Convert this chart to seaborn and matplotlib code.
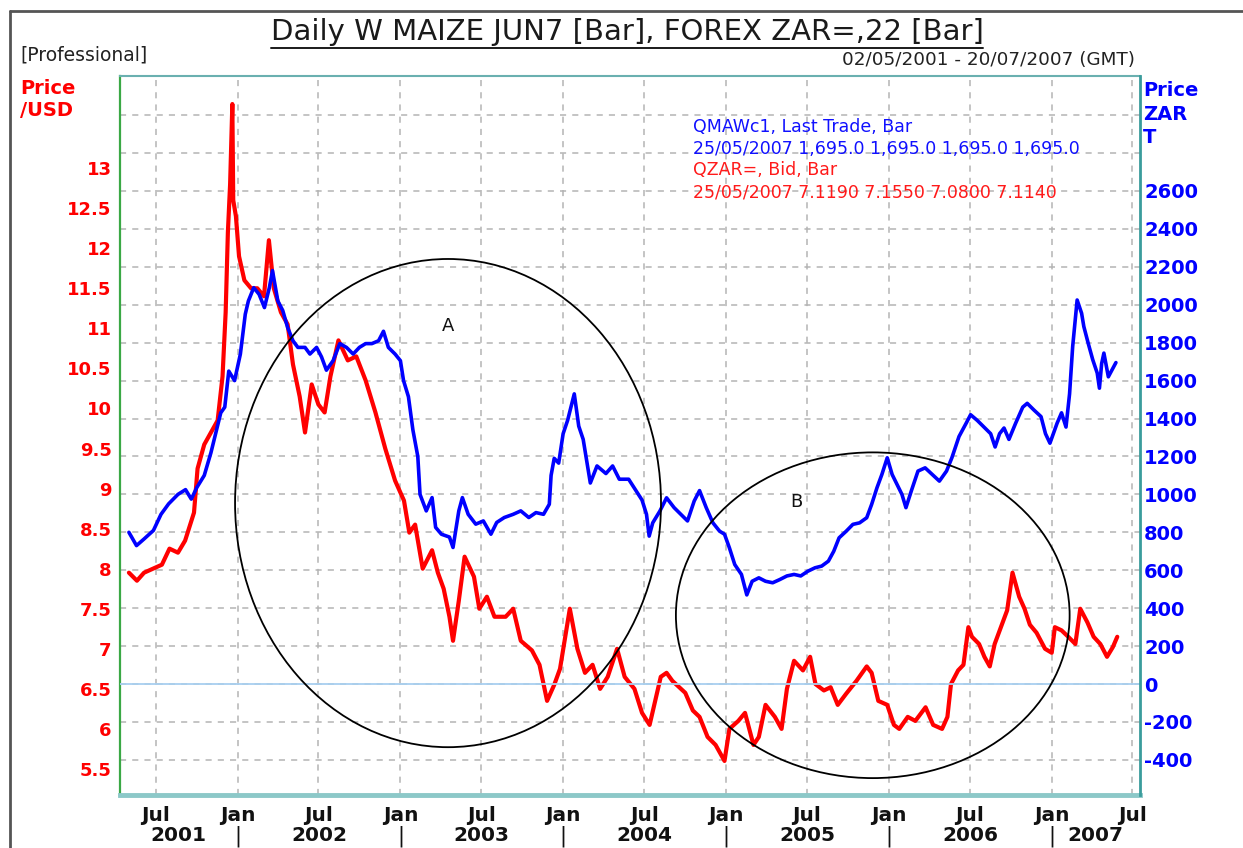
import numpy as np
import pandas as pd
import matplotlib
matplotlib.use("Agg")
import matplotlib.pyplot as plt
import matplotlib.dates as mdates
import matplotlib.transforms as mtransforms
from matplotlib.patches import Ellipse
from matplotlib.lines import Line2D
import seaborn as sns

# QZAR= bid, rand per US dollar (left axis)
zar_dates = [
    "2001-05-02", "2001-05-20", "2001-06-05", "2001-06-25", "2001-07-15", "2001-08-01",
    "2001-08-20", "2001-09-05", "2001-09-25", "2001-10-03", "2001-10-18", "2001-11-02",
    "2001-11-17", "2001-11-28", "2001-12-05", "2001-12-10", "2001-12-15", "2001-12-20",
    "2001-12-22", "2001-12-28", "2002-01-04", "2002-01-16", "2002-01-31", "2002-02-14",
    "2002-03-01", "2002-03-12", "2002-03-23", "2002-04-08", "2002-04-23", "2002-05-05",
    "2002-05-20", "2002-06-01", "2002-06-16", "2002-07-01", "2002-07-15", "2002-07-28",
    "2002-08-15", "2002-09-05", "2002-09-24", "2002-10-15", "2002-11-06", "2002-11-28",
    "2002-12-20", "2003-01-09", "2003-01-21", "2003-02-03", "2003-02-20", "2003-03-13",
    "2003-03-26", "2003-04-08", "2003-04-21", "2003-04-29", "2003-05-12", "2003-05-25",
    "2003-06-15", "2003-06-27", "2003-07-14", "2003-07-31", "2003-08-25", "2003-09-11",
    "2003-09-28", "2003-10-23", "2003-11-09", "2003-11-26", "2003-12-12", "2003-12-25",
    "2004-01-16", "2004-02-02", "2004-02-19", "2004-03-07", "2004-03-24", "2004-04-10",
    "2004-05-01", "2004-05-18", "2004-06-09", "2004-06-26", "2004-07-13", "2004-08-07",
    "2004-08-20", "2004-09-02", "2004-10-01", "2004-10-18", "2004-11-02", "2004-11-20",
    "2004-12-08", "2004-12-28", "2005-01-08", "2005-01-28", "2005-02-12", "2005-03-03",
    "2005-03-15", "2005-03-30", "2005-04-20", "2005-05-05", "2005-05-17", "2005-06-02",
    "2005-06-22", "2005-07-08", "2005-07-20", "2005-08-08", "2005-08-23", "2005-09-08",
    "2005-09-27", "2005-10-20", "2005-11-12", "2005-11-23", "2005-12-08", "2005-12-28",
    "2006-01-12", "2006-01-24", "2006-02-12", "2006-03-01", "2006-03-24", "2006-04-10",
    "2006-04-30", "2006-05-12", "2006-05-20", "2006-06-05", "2006-06-17", "2006-06-28",
    "2006-07-06", "2006-07-22", "2006-08-03", "2006-08-15", "2006-08-26", "2006-09-11",
    "2006-09-23", "2006-10-05", "2006-10-20", "2006-11-01", "2006-11-13", "2006-11-28",
    "2006-12-17", "2007-01-01", "2007-01-08", "2007-01-23", "2007-02-07", "2007-02-23",
    "2007-03-06", "2007-03-22", "2007-04-05", "2007-04-20", "2007-05-05", "2007-05-18",
    "2007-05-28",
]
zar_values = [
    7.95, 7.85, 7.95, 8.00, 8.05, 8.25,
    8.20, 8.35, 8.70, 9.25, 9.55, 9.70,
    9.85, 10.40, 11.20, 12.20, 12.80, 13.80,
    12.60, 12.40, 11.90, 11.60, 11.50, 11.50,
    11.40, 12.10, 11.50, 11.20, 11.05, 10.55,
    10.15, 9.70, 10.30, 10.05, 9.95, 10.40,
    10.85, 10.60, 10.65, 10.35, 9.95, 9.50,
    9.10, 8.85, 8.45, 8.55, 8.00, 8.23,
    7.95, 7.75, 7.40, 7.10, 7.60, 8.15,
    7.90, 7.50, 7.65, 7.40, 7.40, 7.50,
    7.10, 6.98, 6.80, 6.35, 6.55, 6.75,
    7.50, 7.00, 6.70, 6.80, 6.50, 6.65,
    7.00, 6.65, 6.50, 6.20, 6.05, 6.65,
    6.70, 6.60, 6.45, 6.23, 6.15, 5.90,
    5.80, 5.60, 6.00, 6.10, 6.20, 5.80,
    5.90, 6.30, 6.15, 6.00, 6.50, 6.85,
    6.73, 6.90, 6.56, 6.48, 6.52, 6.30,
    6.44, 6.60, 6.78, 6.70, 6.35, 6.30,
    6.05, 6.00, 6.15, 6.10, 6.27, 6.05,
    6.00, 6.15, 6.56, 6.73, 6.80, 7.27,
    7.15, 7.06, 6.90, 6.78, 7.06, 7.30,
    7.48, 7.95, 7.65, 7.50, 7.30, 7.20,
    7.00, 6.95, 7.27, 7.23, 7.15, 7.06,
    7.50, 7.33, 7.15, 7.06, 6.90, 7.02,
    7.15,
]

# QMAWc1 last trade, white maize rand per ton (right axis)
maize_dates = [
    "2001-05-02", "2001-05-19", "2001-06-05", "2001-06-26", "2001-07-13", "2001-07-30",
    "2001-08-20", "2001-09-06", "2001-09-19", "2001-10-01", "2001-10-18", "2001-11-02",
    "2001-11-24", "2001-12-03", "2001-12-12", "2001-12-25", "2002-01-07", "2002-01-18",
    "2002-01-25", "2002-02-06", "2002-02-18", "2002-03-02", "2002-03-13", "2002-03-20",
    "2002-04-01", "2002-04-12", "2002-04-23", "2002-05-05", "2002-05-16", "2002-06-01",
    "2002-06-12", "2002-06-27", "2002-07-08", "2002-07-19", "2002-08-03", "2002-08-18",
    "2002-09-02", "2002-09-17", "2002-10-01", "2002-10-15", "2002-10-29", "2002-11-13",
    "2002-11-24", "2002-12-05", "2002-12-20", "2003-01-01", "2003-01-08", "2003-01-19",
    "2003-01-29", "2003-02-09", "2003-02-14", "2003-02-28", "2003-03-13", "2003-03-21",
    "2003-04-03", "2003-04-21", "2003-04-29", "2003-05-12", "2003-05-20", "2003-06-02",
    "2003-06-19", "2003-07-06", "2003-07-23", "2003-08-05", "2003-08-22", "2003-09-11",
    "2003-09-28", "2003-10-16", "2003-11-01", "2003-11-18", "2003-12-01", "2003-12-05",
    "2003-12-12", "2003-12-22", "2004-01-01", "2004-01-11", "2004-01-26", "2004-02-05",
    "2004-02-15", "2004-03-02", "2004-03-17", "2004-04-06", "2004-04-21", "2004-05-06",
    "2004-05-27", "2004-06-11", "2004-06-26", "2004-07-06", "2004-07-12", "2004-07-20",
    "2004-08-05", "2004-08-20", "2004-09-06", "2004-09-21", "2004-10-06", "2004-10-21",
    "2004-11-02", "2004-11-17", "2004-12-02", "2004-12-17", "2004-12-28", "2005-01-08",
    "2005-01-20", "2005-02-04", "2005-02-16", "2005-02-28", "2005-03-15", "2005-03-30",
    "2005-04-15", "2005-05-01", "2005-05-17", "2005-06-02", "2005-06-17", "2005-07-03",
    "2005-07-19", "2005-08-03", "2005-08-18", "2005-08-30", "2005-09-11", "2005-09-27",
    "2005-10-12", "2005-10-27", "2005-11-12", "2005-11-23", "2005-12-05", "2005-12-16",
    "2005-12-28", "2006-01-08", "2006-01-19", "2006-01-30", "2006-02-08", "2006-02-20",
    "2006-03-07", "2006-03-23", "2006-04-08", "2006-04-24", "2006-05-10", "2006-05-22",
    "2006-06-07", "2006-06-23", "2006-07-03", "2006-07-18", "2006-08-02", "2006-08-17",
    "2006-08-27", "2006-09-06", "2006-09-16", "2006-09-27", "2006-10-12", "2006-10-28",
    "2006-11-07", "2006-11-22", "2006-12-08", "2006-12-18", "2006-12-28", "2007-01-13",
    "2007-01-23", "2007-02-02", "2007-02-10", "2007-02-17", "2007-02-27", "2007-03-09",
    "2007-03-14", "2007-03-24", "2007-04-03", "2007-04-13", "2007-04-18", "2007-04-23",
    "2007-04-28", "2007-05-08", "2007-05-25",
]
maize_values = [
    800, 730, 765, 810, 895, 950,
    1000, 1025, 975, 1035, 1100, 1220,
    1430, 1460, 1650, 1600, 1740, 1950,
    2020, 2090, 2055, 1985, 2090, 2180,
    2020, 1970, 1880, 1810, 1775, 1775,
    1740, 1775, 1725, 1655, 1705, 1795,
    1775, 1740, 1775, 1795, 1795, 1810,
    1860, 1775, 1740, 1705, 1600, 1515,
    1340, 1200, 1000, 913, 983, 826,
    790, 775, 720, 913, 983, 895,
    843, 860, 790, 852, 878, 895,
    913, 878, 904, 895, 948, 1100,
    1190, 1165, 1320, 1390, 1530, 1360,
    1290, 1060, 1150, 1110, 1150, 1080,
    1080, 1025, 970, 895, 780, 850,
    912, 982, 930, 895, 860, 965,
    1020, 930, 850, 806, 790, 718,
    630, 578, 470, 542, 560, 542,
    534, 551, 570, 578, 570, 595,
    613, 622, 648, 700, 771, 806,
    842, 850, 877, 947, 1035, 1105,
    1193, 1105, 1053, 1000, 930, 1018,
    1123, 1140, 1105, 1070, 1123, 1193,
    1305, 1375, 1420, 1390, 1355, 1320,
    1250, 1320, 1350, 1290, 1375, 1460,
    1480, 1445, 1410, 1320, 1270, 1375,
    1430, 1355, 1530, 1780, 2025, 1955,
    1885, 1795, 1710, 1640, 1560, 1690,
    1745, 1620, 1695,
]

left_ticks = [5.5, 6, 6.5, 7, 7.5, 8, 8.5, 9, 9.5, 10, 10.5, 11, 11.5, 12, 12.5, 13]
right_ticks = list(range(-400, 2601, 200))
grid_levels = list(range(-400, 3001, 200))
years = [2001, 2002, 2003, 2004, 2005, 2006, 2007]

legend_lines = [
    ("QMAWc1, Last Trade, Bar", "#1010ff"),
    ("25/05/2007 1,695.0 1,695.0 1,695.0 1,695.0", "#1010ff"),
    ("QZAR=, Bid, Bar", "#ff1a1a"),
    ("25/05/2007 7.1190 7.1550 7.0800 7.1140", "#ff1a1a"),
]

zar = pd.DataFrame({"date": pd.to_datetime(zar_dates), "price": zar_values})
maize = pd.DataFrame({"date": pd.to_datetime(maize_dates), "price": maize_values})

sns.set_style("white")
plt.rcParams["font.family"] = ["DejaVu Sans"]

W, H = 1243, 848
fig = plt.figure(figsize=(W / 100, H / 100), dpi=100)
fig.patch.set_facecolor("white")

# plot box in pixels: x 120..1140, y 76..795
ax = fig.add_axes([120 / W, 1 - 795 / H, 1020 / W, 719 / H])
ax2 = ax.twinx()

x0, x1 = pd.Timestamp("2001-04-12"), pd.Timestamp("2007-07-18")
l0, l1 = 5.175, 14.15
r0, r1 = -585, 3206

# horizontal grid follows the right-hand scale
for g in grid_levels:
    lv = l0 + (g - r0) / (r1 - r0) * (l1 - l0)
    ax.axhline(lv, color="#b4b4b4", lw=1.1, ls=(0, (4, 4)), zorder=0)

sns.lineplot(data=zar, x="date", y="price", ax=ax, color="#ff0000", lw=3.0, zorder=3)
sns.lineplot(data=maize, x="date", y="price", ax=ax2, color="#0000ff", lw=2.6, zorder=3)

ax2.axhline(0, color="#a8cff0", lw=1.3, zorder=1)

ax.set_xlim(x0, x1)
ax.set_ylim(l0, l1)
ax2.set_ylim(r0, r1)

ax.xaxis.set_major_locator(mdates.MonthLocator(bymonth=[1, 7]))
ax.xaxis.set_major_formatter(mdates.DateFormatter("%b"))
ax.grid(axis="x", color="#b4b4b4", lw=1.1, ls=(0, (4, 4)))
ax.grid(axis="y", visible=False)
ax2.grid(False)
ax.set_axisbelow(True)

ax.set_yticks(left_ticks)
ax.set_yticklabels([f"{t:g}" for t in left_ticks])
ax2.set_yticks(right_ticks)
ax2.set_yticklabels([str(t) for t in right_ticks])

ax.tick_params(axis="y", length=0, pad=6, labelcolor="#ff0000", labelsize=13)
ax2.tick_params(axis="y", length=0, pad=3, labelcolor="#0000ff", labelsize=14)
for lab in ax.get_yticklabels():
    lab.set_fontweight("bold")
for lab in ax2.get_yticklabels():
    lab.set_fontweight("bold")
ax.tick_params(axis="x", length=4, width=1.5, color="#333333", pad=4,
               labelsize=14.5, labelcolor="#111111")
for lab in ax.get_xticklabels():
    lab.set_fontweight("bold")

ax.set_xlabel("")
ax.set_ylabel("")
ax2.set_ylabel("")

ax.spines["left"].set_color("#3aa845")
ax.spines["left"].set_linewidth(1.6)
ax.spines["bottom"].set_color("#8cc8c8")
ax.spines["bottom"].set_linewidth(3.5)
ax.spines["top"].set_color("#6ab0b0")
ax.spines["top"].set_linewidth(1.5)
ax.spines["top"].set_linestyle((0, (2, 1)))
ax.spines["right"].set_visible(False)
for side in ["left", "top", "bottom"]:
    ax2.spines[side].set_visible(False)
ax2.spines["right"].set_color("#3a9c9c")
ax2.spines["right"].set_linewidth(2)

# year row under the month labels
row = mtransforms.blended_transform_factory(ax.transData, ax.transAxes)
for yr in years:
    a = max(pd.Timestamp(f"{yr}-01-01"), x0)
    b = min(pd.Timestamp(f"{yr + 1}-01-01"), x1)
    mid = a + (b - a) / 2
    ax.text(mid, -0.057, str(yr), transform=row, ha="center", va="center",
            fontsize=14.5, fontweight="bold", color="#111111", clip_on=False)
    if yr > 2001:
        ax.text(pd.Timestamp(f"{yr}-01-01"), -0.057, "|", transform=row, ha="center",
                va="center", fontsize=15, color="#111111", clip_on=False)

# circled regions
for cx, cy, w, h in [(0.3216, 0.406, 0.4176, 0.679), (0.738, 0.250, 0.386, 0.453)]:
    ax2.add_patch(Ellipse((cx, cy), w, h, transform=ax2.transAxes, fill=False,
                          ec="black", lw=1.3, zorder=5))
ax2.text(0.3216, 0.652, "A", transform=ax2.transAxes, ha="center", va="center",
         fontsize=13, color="#111111", zorder=6)
ax2.text(0.663, 0.4075, "B", transform=ax2.transAxes, ha="center", va="center",
         fontsize=13, color="#111111", zorder=6)

# legend block inside the plot
for i, (txt, col) in enumerate(legend_lines):
    fig.text(693 / W, 1 - (127 + i * 21.7) / H, txt, color=col, fontsize=12.5,
             ha="left", va="center")

# header texts
title = fig.text(627 / W, 1 - 32 / H, "Daily W MAIZE JUN7 [Bar], FOREX ZAR=,22 [Bar]",
                 ha="center", va="center", fontsize=21, color="#1a1a1a")
fig.text(20 / W, 1 - 55 / H, "[Professional]", ha="left", va="center",
         fontsize=13.5, color="#222222")
fig.text(1135 / W, 1 - 60 / H, "02/05/2001 - 20/07/2007 (GMT)", ha="right",
         va="center", fontsize=13.2, color="#222222")
fig.text(20 / W, 1 - 100 / H, "Price\n/USD", ha="left", va="center", fontsize=14,
         fontweight="bold", color="#ff0000", linespacing=1.2)
fig.text(1143 / W, 1 - 114 / H, "Price\nZAR\nT", ha="left", va="center", fontsize=14,
         fontweight="bold", color="#0000ff", linespacing=1.3)

fig.canvas.draw()
bb = title.get_window_extent().transformed(fig.transFigure.inverted())
fig.add_artist(Line2D([bb.x0, bb.x1], [bb.y0 - 0.002, bb.y0 - 0.002],
                      transform=fig.transFigure, color="#1a1a1a", lw=1.4))

# outer frame edges
fig.add_artist(Line2D([10 / W, 1], [1 - 11 / H, 1 - 11 / H], transform=fig.transFigure,
                      color="#555555", lw=2))
fig.add_artist(Line2D([10 / W, 10 / W], [0, 1 - 11 / H], transform=fig.transFigure,
                      color="#555555", lw=2))

fig.savefig("out.png", dpi=100)
